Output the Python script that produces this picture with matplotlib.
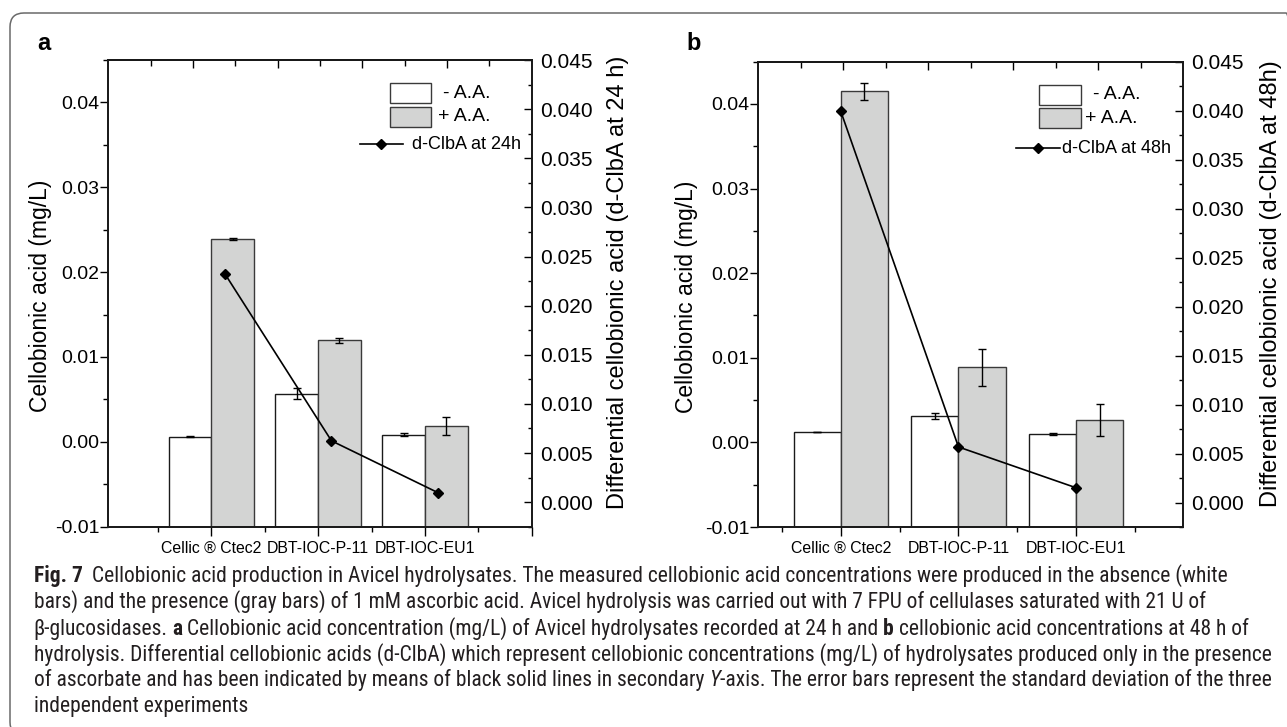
import numpy as np
import matplotlib
matplotlib.use('Agg')
import matplotlib.pyplot as plt
from matplotlib.patches import Rectangle, FancyBboxPatch
from matplotlib.lines import Line2D
from matplotlib.ticker import MultipleLocator, FuncFormatter
from matplotlib import font_manager

plt.rcParams['font.family'] = ['Liberation Sans', 'DejaVu Sans']
plt.rcParams['axes.unicode_minus'] = False

# data
categories = ['Cellic ® Ctec2', 'DBT-IOC-P-11', 'DBT-IOC-EU1']

minus_24 = [0.00062, 0.00568, 0.00086]
minus_24_err = [0.00003, 0.00068, 0.0002]
plus_24 = [0.0239, 0.01195, 0.00187]
plus_24_err = [0.0001, 0.0003, 0.0011]
diff_24 = [0.02327, 0.00624, 0.00095]

minus_48 = [0.00122, 0.0031, 0.00098]
minus_48_err = [0.00002, 0.00035, 0.00015]
plus_48 = [0.0415, 0.00886, 0.00263]
plus_48_err = [0.00103, 0.00216, 0.0019]
diff_48 = [0.03995, 0.00567, 0.0015]

W, H = 1287, 727
fig = plt.figure(figsize=(W / 100, H / 100), dpi=100)
fig.patch.set_facecolor('white')


def fx(px):
    return px / W


def fy(py):
    return 1 - py / H


def tick_fmt(decimals):
    def f(v, pos):
        if abs(v) < 1e-9:
            v = 0.0
        return f'{v:.{decimals}f}'
    return FuncFormatter(f)


def draw_panel(box, minus, minus_err, plus, plus_err, diff, line_shift, xlim,
               xticks, right_label, line_label, leg):
    left, top, right, bottom = box
    ax = fig.add_axes([fx(left), fy(bottom), fx(right - left), (bottom - top) / H])
    x = np.arange(1, len(categories) + 1)
    base = -0.01
    ekw = dict(fmt='none', ecolor='black', elinewidth=1, capsize=3, capthick=1, zorder=3)
    ax.bar(x - 0.2, np.array(minus) - base, 0.4, bottom=base, color='white',
           edgecolor='#1a1a1a', linewidth=1, zorder=2)
    ax.errorbar(x - 0.2, minus, yerr=minus_err, **ekw)
    ax.bar(x + 0.2, np.array(plus) - base, 0.4, bottom=base, color='#d3d4d3',
           edgecolor='#3a3a3a', linewidth=1, zorder=2)
    ax.errorbar(x + 0.2, plus, yerr=plus_err, **ekw)

    ax.set_xlim(*xlim)
    ax.set_ylim(-0.01, 0.045)
    ax.set_xticks(xticks)
    ax.set_xticklabels(categories + [''] * (len(xticks) - len(categories)))
    ax.set_xticks(np.arange(0.5, xlim[1], 1.0), minor=True)
    ax.yaxis.set_major_locator(MultipleLocator(0.01))
    ax.yaxis.set_minor_locator(MultipleLocator(0.005))
    ax.yaxis.set_major_formatter(tick_fmt(2))
    ax.tick_params(axis='x', which='major', direction='out', length=6.5, width=1,
                   labelsize=11.4, pad=3.5)
    ax.tick_params(axis='x', which='minor', direction='out', length=3.3, width=1)
    ax.tick_params(axis='y', which='major', direction='out', length=6, width=1,
                   labelsize=14, pad=0.5)
    ax.tick_params(axis='y', which='minor', direction='out', length=3.5, width=1)
    for s in ax.spines.values():
        s.set_linewidth(1.3)
        s.set_color('#1a1a1a')
    ax.set_ylabel('Cellobionic acid (mg/L)', fontsize=16.5, va='center')
    ax.yaxis.set_label_coords(leg['ylab_x'], 0.494)

    # ticks along the top edge
    sec = ax.secondary_xaxis('top')
    pos = xlim[0] + np.arange(11) * (xlim[1] - xlim[0]) / 10
    sec.set_xticks(pos[2:10:2])
    sec.set_xticks(pos[1:10:2], minor=True)
    sec.set_xticklabels([])
    sec.tick_params(which='major', direction='in', length=5.5, width=1)
    sec.tick_params(which='minor', direction='in', length=4, width=1)
    sec.spines['top'].set_linewidth(1.3)

    ax2 = ax.twinx()
    ax2.plot(x + line_shift, diff, color='black', lw=1.2, marker='D', ms=5.5, zorder=4)
    ax2.set_ylim(-0.0025, 0.045)
    ax2.yaxis.set_major_locator(MultipleLocator(0.005))
    ax2.yaxis.set_minor_locator(MultipleLocator(0.0025))
    ax2.yaxis.set_major_formatter(tick_fmt(3))
    ax2.tick_params(axis='y', which='major', direction='in', length=5.5, width=1,
                    labelsize=15, pad=5.8)
    ax2.tick_params(axis='y', which='minor', direction='in', length=3, width=1)
    for s in ax2.spines.values():
        s.set_linewidth(1.3)
        s.set_color('#1a1a1a')
    ax2.set_ylabel(right_label, fontsize=17, va='center', rotation=90)
    ax2.yaxis.set_label_coords(1.205, 0.523)

    # legend drawn by hand to follow the original layout
    tr = ax2.transAxes
    px0, pw, ph = leg['patch_x'], leg['patch_w'], 0.043
    ax2.add_patch(Rectangle((px0, 0.907), pw, ph, transform=tr, facecolor='white',
                            edgecolor='#3a3a3a', lw=1, clip_on=False))
    ax2.add_patch(Rectangle((px0, 0.857), pw, ph, transform=tr, facecolor='#d3d4d3',
                            edgecolor='#3a3a3a', lw=1, clip_on=False))
    ax2.text(leg['t1'], 0.9285, '- A.A.', transform=tr, fontsize=14, va='center')
    ax2.text(leg['t2'], 0.879, '+ A.A.', transform=tr, fontsize=14, va='center')
    ly = leg['line_y']
    ax2.add_line(Line2D(leg['line_x'], [ly, ly], transform=tr, color='black', lw=1.2))
    ax2.add_line(Line2D([sum(leg['line_x']) / 2], [ly], transform=tr, color='black',
                        marker='D', ms=5.5, lw=0))
    ax2.text(leg['t3'], ly, line_label, transform=tr, fontsize=13, va='center')
    return ax, ax2


draw_panel((108.3, 60, 531.7, 526.7), minus_24, minus_24_err, plus_24, plus_24_err,
           diff_24, 0.125, (0.035, 4.0), [1, 2, 3, 4],
           'Differential cellobionic acid (d-ClbA at 24 h)', 'd-ClbA at 24h',
           dict(patch_x=0.6653, patch_w=0.0969, t1=0.7905, t2=0.7795,
                line_x=[0.5943, 0.6958], line_y=0.8194, t3=0.7166, ylab_x=-0.161))

draw_panel((758.3, 61.7, 1183.4, 527), minus_48, minus_48_err, plus_48, plus_48_err,
           diff_48, 0.0, (0.3, 3.91), [1, 2, 3],
           'Differential cellobionic acid (d-ClbA at 48h)', 'd-ClbA at 48h',
           dict(patch_x=0.661, patch_w=0.098, t1=0.7875, t2=0.7685,
                line_x=[0.6053, 0.7088], line_y=0.8139, t3=0.7137, ylab_x=-0.169))

fig.text(fx(44), fy(43), 'a', fontsize=17, weight='bold', ha='center', va='center')
fig.text(fx(694), fy(43), 'b', fontsize=17, weight='bold', ha='center', va='center')

# rounded frame around figure + caption
fig.patches.append(FancyBboxPatch((0.10, -0.09), 12.9, 7.23,
                                  boxstyle='round,pad=0,rounding_size=0.14',
                                  transform=fig.dpi_scale_trans, fill=False,
                                  edgecolor='#6a6a6a', lw=1.1))

# caption
names = {f.name for f in font_manager.fontManager.ttflist}
cap_family = next((n for n in ['Roboto Condensed', 'Liberation Sans Narrow',
                               'Open Sans Condensed', 'Open Sans'] if n in names),
                  'DejaVu Sans')
cap_fam = [cap_family, 'DejaVu Sans']
cap_color = '#231f20'

caption = [
    [('Fig. 7', 'bold', 'normal', 0),
     ('Cellobionic acid production in Avicel hydrolysates. The measured cellobionic acid '
      'concentrations were produced in the absence (white', 'normal', 'normal', 2)],
    [('bars) and the presence (gray bars) of 1 mM ascorbic acid. Avicel hydrolysis was '
      'carried out with 7 FPU of cellulases saturated with 21 U of', 'normal', 'normal', 0)],
    [('β-glucosidases.', 'normal', 'normal', 0), ('a', 'bold', 'normal', 1),
     ('Cellobionic acid concentration (mg/L) of Avicel hydrolysates recorded at 24 h and',
      'normal', 'normal', 1),
     ('b', 'bold', 'normal', 1),
     ('cellobionic acid concentrations at 48 h of', 'normal', 'normal', 1)],
    [('hydrolysis. Differential cellobionic acids (d-ClbA) which represent cellobionic '
      'concentrations (mg/L) of hydrolysates produced only in the presence',
      'normal', 'normal', 0)],
    [('of ascorbate and has been indicated by means of black solid lines in secondary',
      'normal', 'normal', 0), ('Y', 'normal', 'italic', 1),
     ('-axis. The error bars represent the standard deviation of the three',
      'normal', 'normal', 0)],
    [('independent experiments', 'normal', 'normal', 0)],
]
baselines = [581.7, 608.3, 635, 660.5, 686, 711.7]

renderer = fig.canvas.get_renderer()
probe = fig.text(0, 0, caption[3][0][0], fontsize=10, family=cap_fam)
wprobe = probe.get_window_extent(renderer).width
probe.remove()
cap_size = 10 * (1271 - 33.5) / wprobe

sp = fig.text(0, 0, 'a a', fontsize=cap_size, family=cap_fam)
sp2 = fig.text(0, 0, 'aa', fontsize=cap_size, family=cap_fam)
space_w = sp.get_window_extent(renderer).width - sp2.get_window_extent(renderer).width
sp.remove()
sp2.remove()

for line, yb in zip(caption, baselines):
    xcur = 33.5
    for text, weight, style, gap in line:
        xcur += gap * space_w
        t = fig.text(fx(xcur), fy(yb), text, fontsize=cap_size, family=cap_fam,
                     weight=weight, style=style, color=cap_color, va='baseline')
        xcur = t.get_window_extent(renderer).x1

fig.savefig('out.png', dpi=100)
